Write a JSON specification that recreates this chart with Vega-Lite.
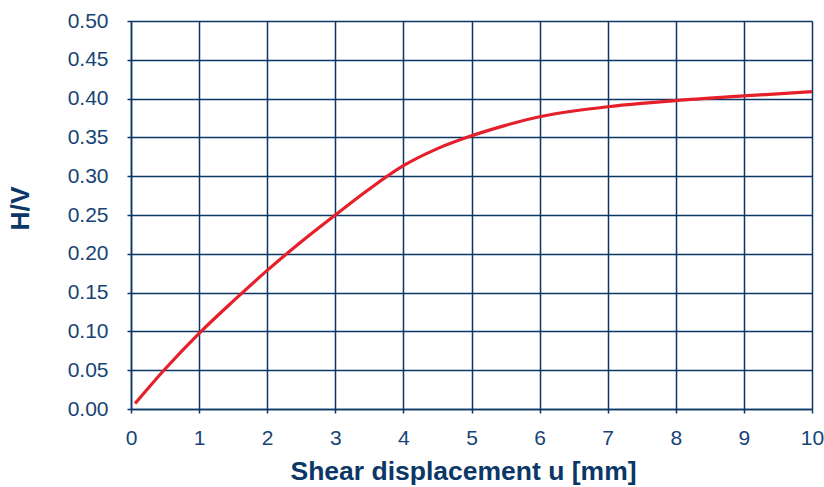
{
  "$schema": "https://vega.github.io/schema/vega-lite/v6.json",
  "autosize": "none",
  "width": 681,
  "height": 388,
  "padding": {"left": 131, "top": 21, "right": 12, "bottom": 78},
  "background": "white",
  "config": {
    "view": {"stroke": null},
    "font": "Liberation Sans"
  },
  "data": {
    "values": [
      {"u": 0.06, "hv": 0.007},
      {"u": 0.5, "hv": 0.0515},
      {"u": 1.0, "hv": 0.0975},
      {"u": 1.5, "hv": 0.139},
      {"u": 2.0, "hv": 0.1786},
      {"u": 2.5, "hv": 0.2155},
      {"u": 3.0, "hv": 0.250},
      {"u": 3.5, "hv": 0.2835},
      {"u": 4.0, "hv": 0.3135},
      {"u": 4.5, "hv": 0.3355},
      {"u": 5.0, "hv": 0.352},
      {"u": 5.5, "hv": 0.3655},
      {"u": 6.0, "hv": 0.3766},
      {"u": 6.5, "hv": 0.384},
      {"u": 7.0, "hv": 0.3895},
      {"u": 7.5, "hv": 0.3938},
      {"u": 8.0, "hv": 0.3975},
      {"u": 9.0, "hv": 0.4034},
      {"u": 10.0, "hv": 0.409}
    ]
  },
  "mark": {"type": "line", "color": "#e5202a", "strokeWidth": 3.2, "interpolate": "monotone"},
  "encoding": {
    "x": {
      "field": "u",
      "type": "quantitative",
      "scale": {"domain": [0, 10], "nice": false, "zero": false},
      "axis": {
        "title": "Shear displacement u [mm]",
        "values": [0, 1, 2, 3, 4, 5, 6, 7, 8, 9, 10],
        "format": "d",
        "grid": true,
        "gridColor": "#0b3766",
        "gridWidth": 1.5,
        "gridOpacity": 1,
        "domainColor": "#0b3766",
        "domainWidth": 1.5,
        "tickColor": "#0b3766",
        "tickWidth": 1.5,
        "tickSize": 4,
        "labelFont": "Liberation Sans",
        "labelFontSize": 21,
        "labelColor": "#164475",
        "labelPadding": 14,
        "labelFlush": false,
        "labelOverlap": false,
        "titleFont": "Liberation Sans",
        "titleFontSize": 26.5,
        "titleFontWeight": "bold",
        "titleColor": "#0b3766",
        "titleX": 332,
        "titleY": 70,
        "titleBaseline": "alphabetic",
        "titleAnchor": null
      }
    },
    "y": {
      "field": "hv",
      "type": "quantitative",
      "scale": {"domain": [0, 0.5], "nice": false},
      "axis": {
        "title": "H/V",
        "values": [0, 0.05, 0.1, 0.15, 0.2, 0.25, 0.3, 0.35, 0.4, 0.45, 0.5],
        "format": ".2f",
        "grid": true,
        "gridColor": "#0b3766",
        "gridWidth": 1.5,
        "gridOpacity": 1,
        "domainColor": "#0b3766",
        "domainWidth": 1.5,
        "tickColor": "#0b3766",
        "tickWidth": 1.5,
        "tickSize": 4,
        "labelFont": "Liberation Sans",
        "labelFontSize": 21,
        "labelColor": "#164475",
        "labelPadding": 19,
        "labelFlush": false,
        "labelOverlap": false,
        "titleFont": "Liberation Sans",
        "titleFontSize": 26.5,
        "titleFontWeight": "bold",
        "titleColor": "#0b3766",
        "titleAngle": 270,
        "titleX": -111,
        "titleY": 187,
        "titleBaseline": "middle",
        "titleAlign": "center",
        "titleAnchor": null
      }
    }
  }
}
